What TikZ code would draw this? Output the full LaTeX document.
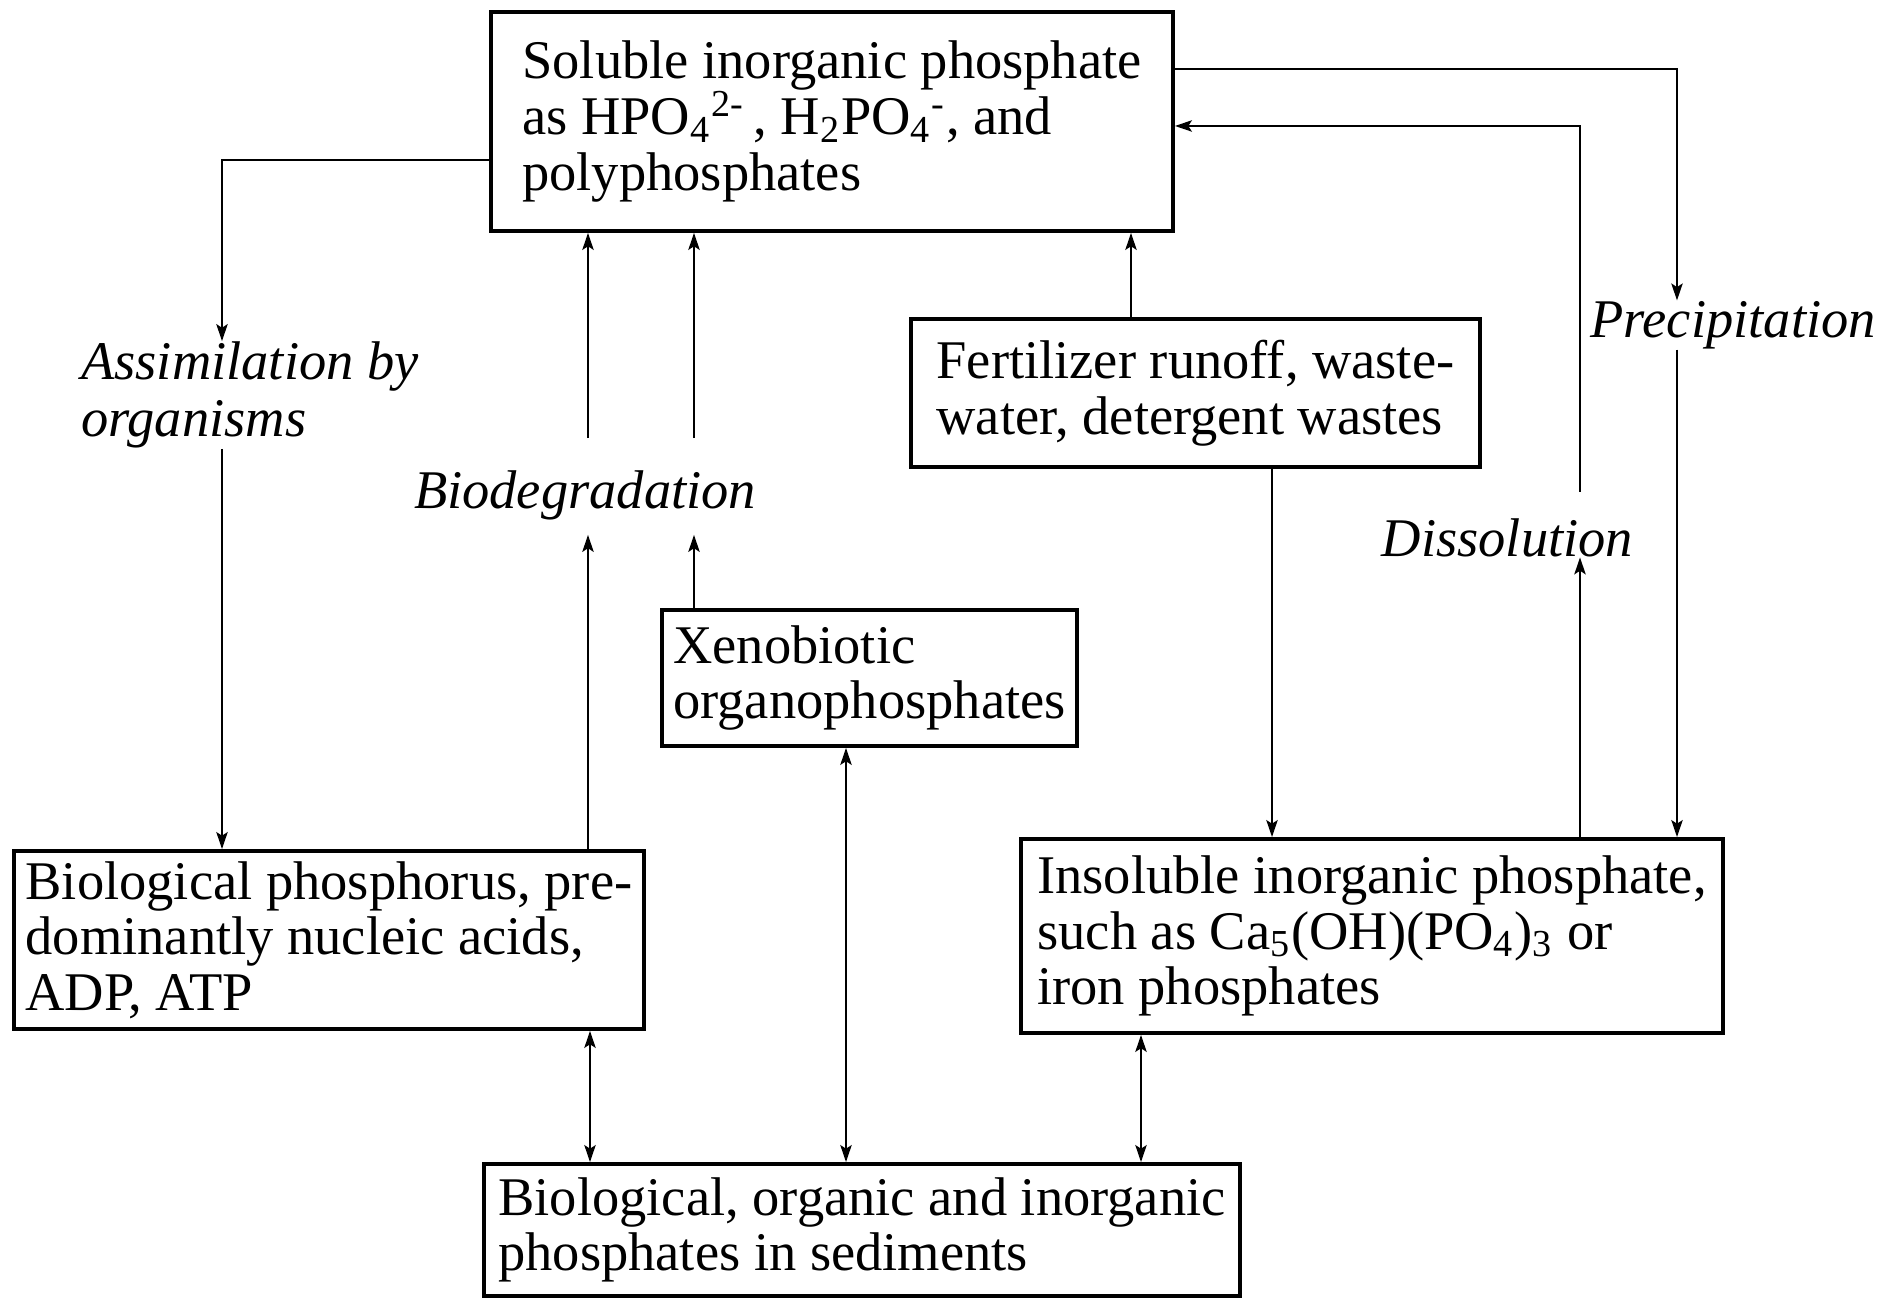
\documentclass[tikz,border=0pt]{standalone}
\usepackage{amsmath}
\usepackage{fontspec}
\setmainfont{Liberation Serif}
\usetikzlibrary{arrows.meta}
\tikzset{%
	phbox/.style={draw, line width=1.1pt, align=left, inner sep=0pt, font=\fontsize{15.5}{15.8}\selectfont},
	proc/.style={align=left, inner sep=0pt, font=\fontsize{15.5}{16.2}\selectfont\itshape},
	pt/.style={line width=0.7pt, ->, >={Stealth[length=4.8pt, width=3.2pt, inset=1pt]}},
	twoway/.style={pt, <->}
}
\newcommand{\chemsub}[1]{$_{\text{#1}}$}
\newcommand{\chemion}[2]{$_{\text{#1}}{}^{\text{#2}}$}

\begin{document}
\begin{tikzpicture}
		\useasboundingbox (0,0) rectangle (18.87,12.99);

		\node[phbox, minimum width=6.82cm, minimum height=2.19cm] (soluble) at (8.32,11.775)
			{Soluble inorganic phosphate\\as HPO\chemion{4}{2-}\,, H\chemsub{2}PO\chemion{4}{-}, and\\polyphosphates};
		\node[phbox, minimum width=5.69cm, minimum height=1.48cm] (fert) at (11.955,9.06)
			{Fertilizer runoff, waste-\\water, detergent wastes};
		\node[phbox, minimum width=4.15cm, minimum height=1.36cm] (xeno) at (8.695,6.21)
			{Xenobiotic\\organophosphates};
		\node[phbox, minimum width=6.30cm, minimum height=1.78cm] (bio) at (3.29,3.59)
			{Biological phosphorus, pre-\\dominantly nucleic acids,\\ADP, ATP};
		\node[phbox, minimum width=7.02cm, minimum height=1.94cm] (insol) at (13.72,3.63)
			{Insoluble inorganic phosphate,\\such as Ca\chemsub{5}(OH)(PO\chemsub{4})\chemsub{3} or\\iron phosphates};
		\node[phbox, minimum width=7.56cm, minimum height=1.32cm] (sed) at (8.62,0.69)
			{Biological, organic and inorganic\\phosphates in sediments};

		\node[proc] (assim) at (2.50,9.04) {Assimilation by\\organisms};
		\node[proc, inner ysep=0.14cm] (biodeg) at (5.85,8.035) {Biodegradation};
		\node[proc] (precip) at (17.33,9.74) {Precipitation};
		\node[proc] (dissol) at (15.075,7.615) {Dissolution};

		\draw[pt] (soluble.west |- 0,11.39) -| (2.22,0 |- assim.north);
		\draw[pt] (2.22,0 |- assim.south) -- (2.22,0 |- bio.north);

		\draw[pt] (5.88,0 |- biodeg.north) ++(0,0.18) -- (5.88,0 |- soluble.south);
		\draw[pt] (6.94,0 |- biodeg.north) ++(0,0.18) -- (6.94,0 |- soluble.south);
		\draw[pt] (5.88,0 |- bio.north) -- (5.88,0 |- biodeg.south);
		\draw[pt] (6.94,0 |- xeno.north) -- (6.94,0 |- biodeg.south);

		\draw[pt] (11.31,0 |- fert.north) -- (11.31,0 |- soluble.south);
		\draw[pt] (12.72,0 |- fert.south) -- (12.72,0 |- insol.north);

		\draw[pt] (soluble.east |- 0,12.30) -| (16.77,0 |- precip.north);
		\draw[pt] (16.77,0 |- precip.south) -- (16.77,0 |- insol.north);

		\draw[pt] (15.80,0 |- insol.north) -- (15.80,0 |- dissol.south);
		\draw[pt] (15.80,0 |- dissol.north) ++(0,0.26) |- (soluble.east |- 0,11.73);

		\draw[twoway] (5.90,0 |- bio.south) -- (5.90,0 |- sed.north);
		\draw[twoway] (8.46,0 |- xeno.south) -- (8.46,0 |- sed.north);
		\draw[twoway] (11.41,0 |- insol.south) -- (11.41,0 |- sed.north);
	\end{tikzpicture}
\end{document}
